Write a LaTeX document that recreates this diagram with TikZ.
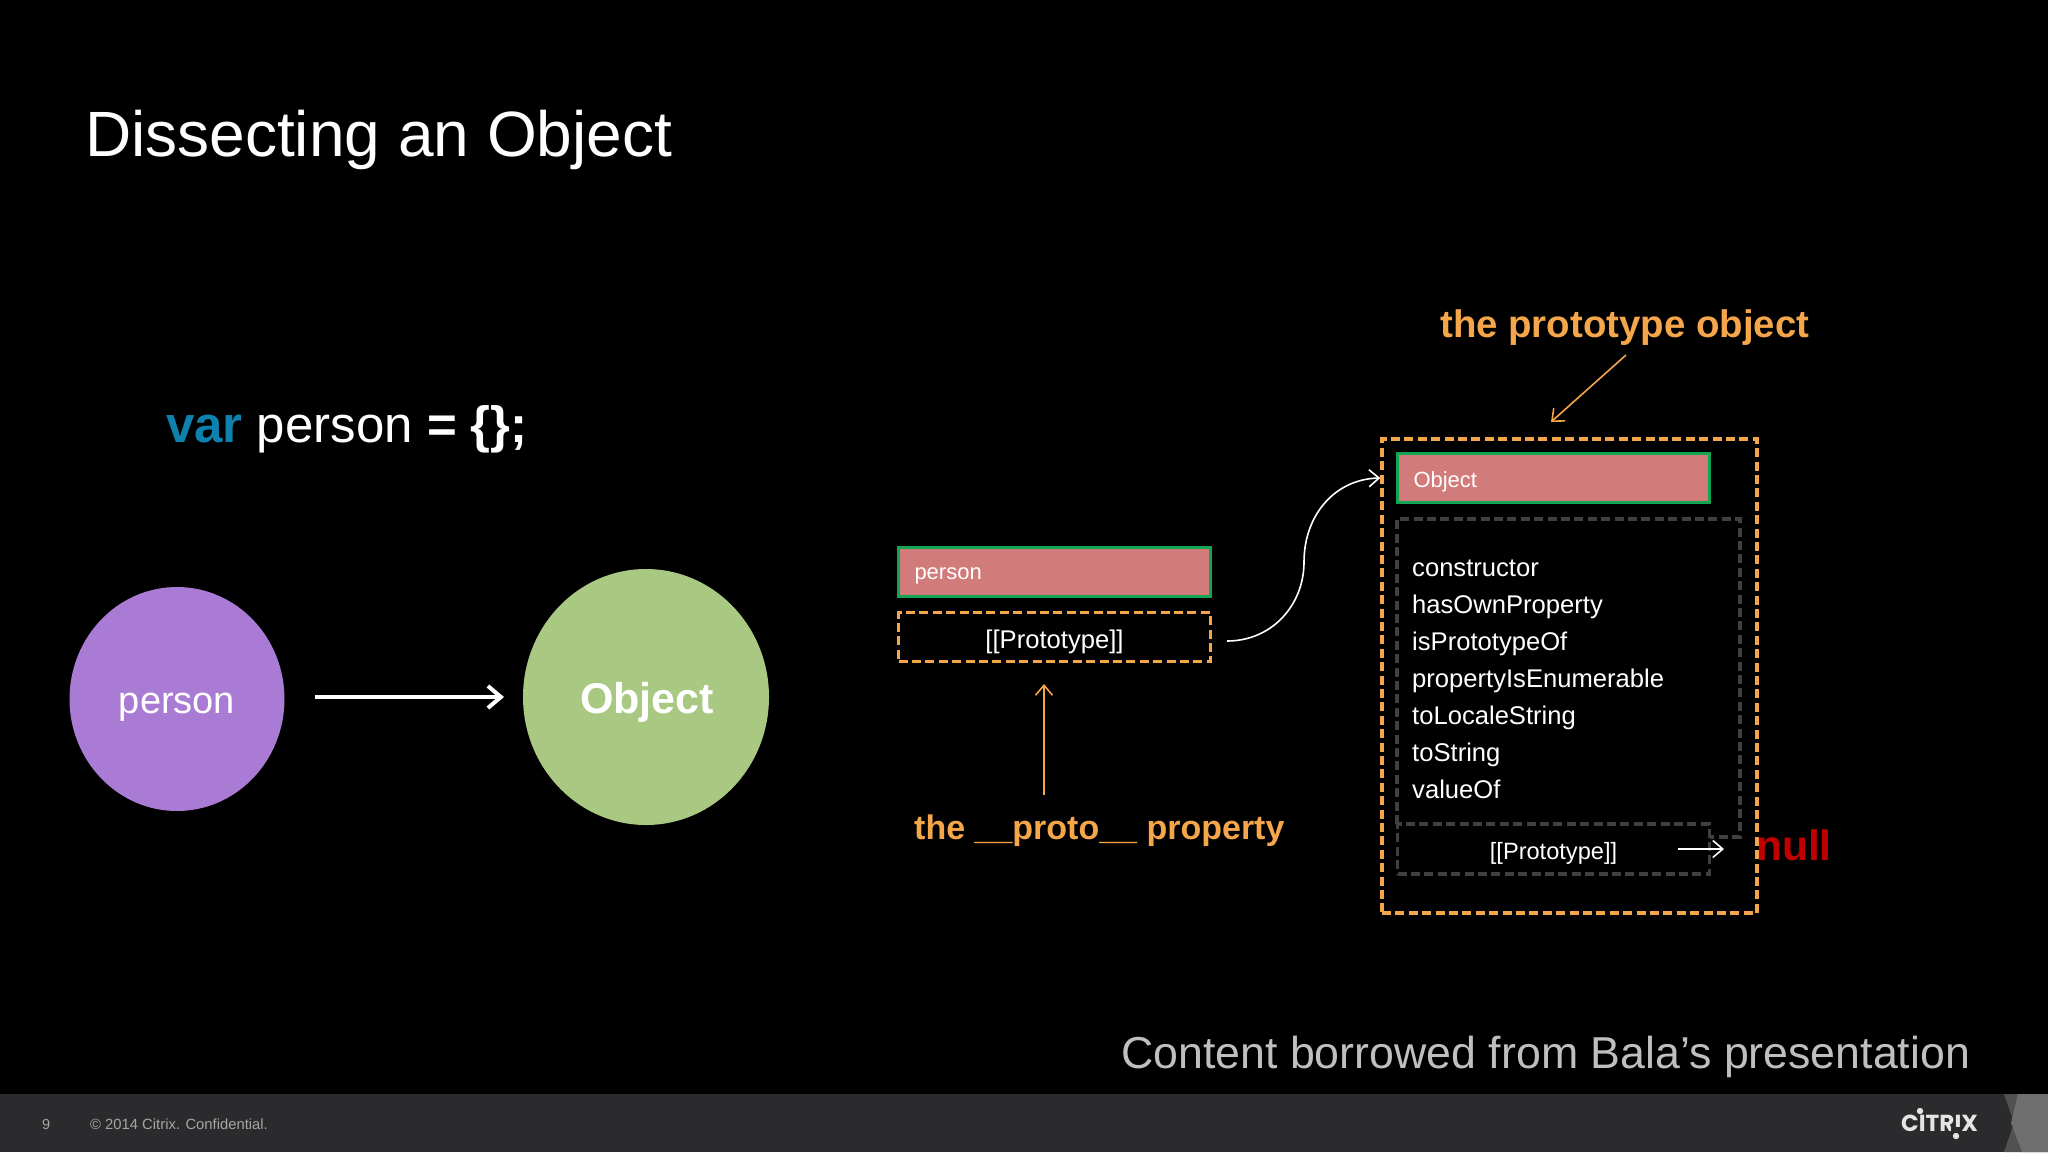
\documentclass[tikz,border=0pt]{standalone}
\usepackage{fontspec}
\setmainfont{Liberation Sans}
\newfontfamily\logofont{Poppins}
\usetikzlibrary{arrows.meta,calc,shapes.geometric}
\definecolor{orangeln}{HTML}{F5A54A}
\definecolor{boxred}{HTML}{D27B7B}
\definecolor{boxgreen}{HTML}{12A552}
\definecolor{greydash}{HTML}{404040}
\definecolor{footbar}{HTML}{2B2A2C}
\definecolor{purplec}{HTML}{A97BD4}
\definecolor{greenc}{HTML}{A9C983}
\definecolor{varblue}{HTML}{0E82AE}
\definecolor{nullred}{HTML}{C00000}
\definecolor{graytxt}{HTML}{BFBFBF}
\newcommand{\fsz}[1]{\fontsize{#1}{#1}\selectfont}
\tikzset{
  txt/.style={anchor=base west,inner sep=0pt,text=white},
  redbox/.style={draw=boxgreen,fill=boxred,line width=3.4pt,text=white,inner sep=0pt,minimum height=49pt,minimum width=312pt,text width=280pt,text depth=0pt,font=\fsz{22}},
  orangedash/.style={draw=orangeln,line width=3.4pt,dash pattern=on 9pt off 4.4pt},
  greybox/.style={draw=greydash,line width=3.4pt,dash pattern=on 9pt off 4.4pt},
  protobox/.style={inner sep=0pt,text=white,font=\fsz{25.6},align=center},
  wline/.style={draw=white,line width=1.6pt,-{Straight Barb[length=10pt,width=17pt,line width=1.6pt]}},
  oline/.style={draw=orangeln,line width=1.6pt,-{Straight Barb[length=10pt,width=17pt,line width=1.6pt]}},
  orangelabel/.style={txt,text=orangeln,font=\bfseries}
}
\begin{document}
\begin{tikzpicture}[x=1pt,y=-1pt]
\useasboundingbox (0,0) rectangle (2048,1152);
\fill[black] (0,0) rectangle (2048,1152);
% footer
\fill[footbar] (0,1094) rectangle (2048,1152);
\fill[gray!45!footbar] (2004,1094) -- (2048,1094) -- (2048,1152) -- (2004,1152) -- (2014,1123) -- cycle;
\fill[gray!80!footbar] (2018,1094) -- (2048,1094) -- (2048,1152) -- (2022,1152) -- (2011,1123) -- cycle;
\node[txt,text=gray!70!white,font=\fsz{14.5}] (pg) at (42,1129) {9};
\node[txt,text=gray!70!white,font=\fsz{14.8}] (copy) at (90,1129) {© 2014 Citrix. Confidential.};
\node[txt,text=white!90!black,font=\logofont\bfseries\fsz{23.2}] (logo) at (1901,1131) {CITRIX};
\fill[footbar] (1951,1127) rectangle (1962,1133);
\fill[white!90!black] (1920,1111) circle (3.2);
\fill[white!90!black] (1956,1136) circle (3.2);
% title
\node[txt,font=\fsz{64}] (title) at (85,156) {Dissecting an Object};
\node[txt,font=\fsz{51}] (code) at (166,442) {\textcolor{varblue}{\textbf{var}} person \textbf{= \{\};}};
% circles
\node[ellipse,fill=purplec,inner sep=0pt,minimum width=215pt,minimum height=224pt] (pc) at (177,699) {};
\node[text=white,font=\fsz{38},inner sep=0pt] (pct) at (177,707) {person};
\node[ellipse,fill=greenc,inner sep=0pt,minimum width=246pt,minimum height=256pt] (oc) at (646,697) {};
\node[text=white,font=\bfseries\fsz{43},inner sep=0pt] (oct) at (647,702) {Object};
\coordinate (astart) at (315,697);
\coordinate (atip) at (504,697);
\draw[draw=white,line width=4pt,-{Straight Barb[length=13pt,width=22pt,line width=4pt]}] (astart) -- (atip);
% left boxes
\node[redbox] (pbox) at (1054.5,572) {\raisebox{-4pt}{person}};
\node[orangedash,protobox,text depth=0pt,minimum width=312pt,minimum height=49pt] (pproto) at (1054.5,637) {\raisebox{-4pt}{[[Prototype]]}};
% labels
\node[orangelabel,font=\bfseries\fsz{34}] (plabel) at (914,839) {the \_\_proto\_\_ property};
\coordinate (upstart) at (1044,795);
\coordinate (uptip) at (1044,684);
\draw[oline] (upstart) -- (uptip);
% object group
\node[orangedash,minimum width=375pt,minimum height=474pt,inner sep=0pt] (group) at (1569.5,676) {};
\node[redbox] (obox) at (1553.5,478) {\raisebox{-4pt}{Object}};
\node[orangelabel,font=\bfseries\fsz{38.4}] (tlabel) at (1440,337) {the prototype object};
\coordinate (dstart) at (1626,355);
\coordinate (dtip) at (1551,422);
\draw[oline] (dstart) -- (dtip);
% inner grey outline
\coordinate (g1) at (1397,824);
\draw[greybox] (g1) -- (1397,519) -- (1740,519) -- (1740,837) -- (1710,837);
\node[greybox,protobox,minimum width=312pt,minimum height=50pt] (oproto) at (1553.5,849) {};
\node[protobox,font=\fsz{23.6}] (oprotot) at (1553.5,853) {[[Prototype]]};
% property list
\foreach \n/\t/\y in {p1/constructor/576,p2/hasOwnProperty/613,p3/isPrototypeOf/650,p4/propertyIsEnumerable/687,p5/toLocaleString/724.5,p6/toString/761,p7/valueOf/798}{
  \node[txt,font=\fsz{25.6}] (\n) at (1412,\y) {\t};
}
% null
\coordinate (nstart) at (1678,849);
\node[txt,text=nullred,font=\bfseries\fsz{42.5}] (null) at (1756,860) {null};
\coordinate (ntip) at (1724,849);
\draw[wline] (nstart) -- (ntip);
% curve
\coordinate (cstart) at (1227,641);
\coordinate (cmid) at (1304,562);
\draw[wline] (cstart) .. controls (1272,641) and (1304,605) .. (cmid) .. controls (1304,515) and (1335,479) .. (group.west |- obox);
% credit
\node[txt,text=graytxt,font=\fsz{44.7}] (credit) at (1121,1068) {Content borrowed from Bala’s presentation};
\end{tikzpicture}
\end{document}
